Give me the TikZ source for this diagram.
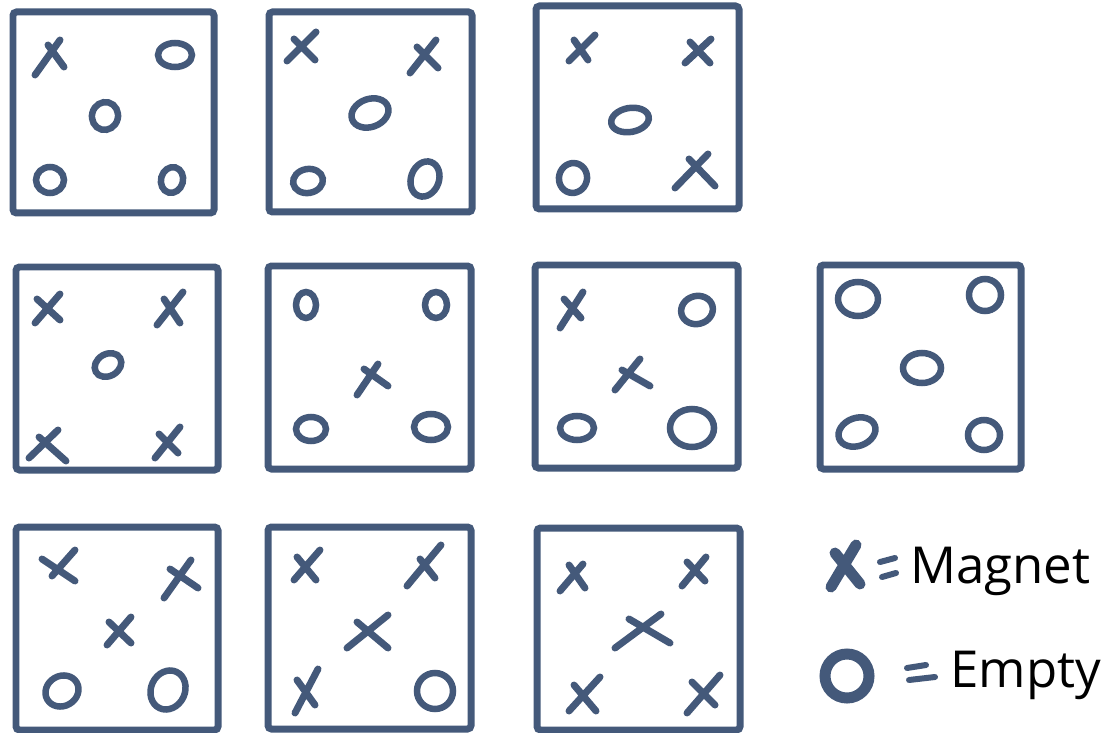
\documentclass[tikz,border=0pt]{standalone}
\usepackage{fontspec}
\setmainfont{Open Sans}
\definecolor{ink}{RGB}{68,89,122}

\begin{document}
\begin{tikzpicture}[
    x=0.02cm, y=-0.02cm,
    color=ink,
    box/.style={line width=0.14cm, rounded corners=2pt},
    stroke/.style={line width=0.14cm, line cap=round},
    ring/.style={line width=0.13cm},
    every node/.style={text=black, inner sep=0pt, anchor=base west}
]

    % Page size (pixels of the sketch)
    \useasboundingbox (0,0) rectangle (1102,733);

    % Row 1
    \draw[box] (13,12) rectangle (214,213);
    \draw[stroke] (35,75) -- (60,40) (48,45) -- (64,67);
    \draw[ring] (175,55) ellipse [x radius=17, y radius=12];
    \draw[ring] (105,116) ellipse [x radius=13, y radius=14, rotate=-15];
    \draw[ring] (50,180) ellipse [x radius=14, y radius=13];
    \draw[ring] (172,180) ellipse [x radius=11, y radius=13, rotate=-15];

    \draw[box] (269,12) rectangle (472,212);
    \draw[stroke] (287,61) -- (316,32) (294,39) -- (315,60);
    \draw[stroke] (410,73) -- (436,40) (417,47) -- (438,68);
    \draw[ring] (370,113) ellipse [x radius=19, y radius=14, rotate=20];
    \draw[ring] (308,181) ellipse [x radius=15, y radius=12, rotate=10];
    \draw[ring] (425,179) ellipse [x radius=14, y radius=18, rotate=-20];

    \draw[box] (536,6) rectangle (739,209);
    \draw[stroke] (569,61) -- (595,35) (574,40) -- (588,60);
    \draw[stroke] (685,63) -- (711,39) (690,42) -- (710,63);
    \draw[ring] (630,120) ellipse [x radius=19, y radius=12, rotate=10];
    \draw[ring] (573,178) ellipse [x radius=14, y radius=15, rotate=-15];
    \draw[stroke] (675,188) -- (708,154) (689,159) -- (715,186);

    % Row 2
    \draw[box] (16,267) rectangle (218,470);
    \draw[stroke] (35,323) -- (60,294) (37,299) -- (60,320);
    \draw[stroke] (157,325) -- (183,292) (164,299) -- (180,323);
    \draw[ring] (108,365) ellipse [x radius=14, y radius=11, rotate=30];
    \draw[stroke] (29,458) -- (58,430) (39,437) -- (66,461);
    \draw[stroke] (155,458) -- (180,427) (159,434) -- (178,453);

    \draw[box] (268,266) rectangle (471,469);
    \draw[ring] (306,305) ellipse [x radius=10, y radius=13];
    \draw[ring] (436,305) ellipse [x radius=11, y radius=13];
    \draw[stroke] (357,395) -- (378,364) (364,369) -- (388,386);
    \draw[ring] (311,429) ellipse [x radius=15, y radius=12];
    \draw[ring] (431,427) ellipse [x radius=17, y radius=13];

    \draw[box] (535,265) rectangle (738,468);
    \draw[stroke] (560,328) -- (583,292) (564,299) -- (581,318);
    \draw[ring] (697,310) ellipse [x radius=16, y radius=14, rotate=15];
    \draw[stroke] (615,390) -- (640,359) (622,370) -- (650,386);
    \draw[ring] (577,428) ellipse [x radius=17, y radius=12];
    \draw[ring] (692,428) ellipse [x radius=22, y radius=19];

    \draw[box] (820,265) rectangle (1021,469);
    \draw[ring] (858,299) ellipse [x radius=20, y radius=17];
    \draw[ring] (985,295) ellipse [x radius=16, y radius=16];
    \draw[ring] (922,368) ellipse [x radius=19, y radius=15];
    \draw[ring] (857,432) ellipse [x radius=19, y radius=14, rotate=20];
    \draw[ring] (984,435) ellipse [x radius=16, y radius=15];

    % Row 3
    \draw[box] (16,527) rectangle (218,730);
    \draw[stroke] (42,559) -- (75,581) (52,576) -- (75,550);
    \draw[stroke] (164,598) -- (191,560) (170,569) -- (198,588);
    \draw[stroke] (107,645) -- (131,617) (109,622) -- (131,643);
    \draw[ring] (62,691) ellipse [x radius=17, y radius=15, rotate=30];
    \draw[ring] (168,690) ellipse [x radius=17, y radius=20, rotate=-25];

    \draw[box] (268,527) rectangle (471,729);
    \draw[stroke] (294,580) -- (320,550) (297,557) -- (316,580);
    \draw[stroke] (407,586) -- (441,545) (420,559) -- (435,578);
    \draw[stroke] (347,648) -- (388,615) (357,622) -- (388,648);
    \draw[stroke] (295,713) -- (318,669) (297,680) -- (315,705);
    \draw[ring] (435,691) ellipse [x radius=18, y radius=18];

    \draw[box] (537,528) rectangle (740,730);
    \draw[stroke] (560,591) -- (583,564) (569,565) -- (585,588);
    \draw[stroke] (682,586) -- (706,557) (687,562) -- (705,581);
    \draw[stroke] (615,648) -- (661,614) (629,619) -- (670,643);
    \draw[stroke] (569,711) -- (600,677) (574,685) -- (596,711);
    \draw[stroke] (687,713) -- (720,675) (692,682) -- (715,705);

    % Legend
    \draw[stroke, line width=0.22cm] (831,587) -- (856,545) (835,553) -- (860,584);
    \draw[stroke, line width=0.12cm] (880,562) -- (895,558) (882,577) -- (896,573);
    \node (magnet) at (910,583) {\fontsize{29}{35}\selectfont Magnet};

    \draw[ring, line width=0.22cm] (847,676) circle [radius=22];
    \draw[stroke, line width=0.12cm] (907,668) -- (926,665) (909,680) -- (935,677);
    \node (empty) at (950,687) {\fontsize{29}{35}\selectfont Empty};

\end{tikzpicture}
\end{document}
